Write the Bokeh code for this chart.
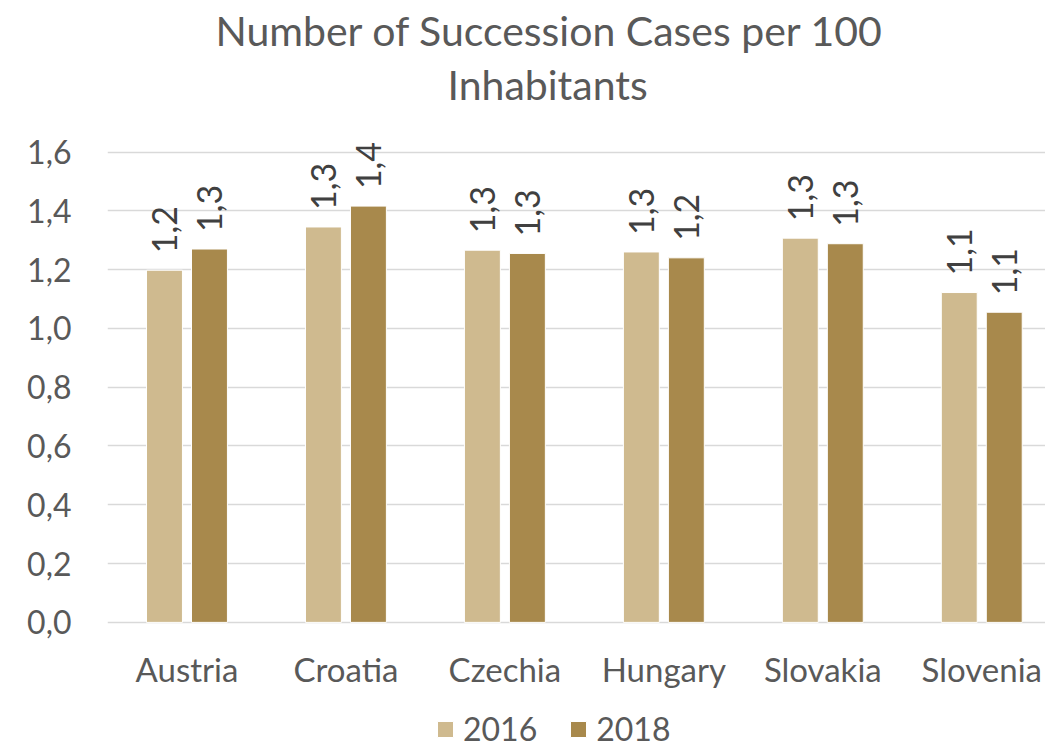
import math
from bokeh.plotting import figure
from bokeh.core.properties import value
from bokeh.models import (ColumnDataSource, Range1d, FixedTicker, CustomJSTickFormatter,
                          Legend, LegendItem, Title, LabelSet)
from bokeh.transform import dodge
from bokeh.embed import file_html
from bokeh.resources import INLINE

# ---- data ----
countries = ["Austria", "Croatia", "Czechia", "Hungary", "Slovakia", "Slovenia"]
years = ["2016", "2018"]
values_2016 = [1.198, 1.345, 1.266, 1.260, 1.307, 1.122]
values_2018 = [1.270, 1.416, 1.255, 1.240, 1.288, 1.055]
y_ticks = [0.0, 0.2, 0.4, 0.6, 0.8, 1.0, 1.2, 1.4, 1.6]
title_line1 = "Number of Succession Cases per 100"
title_line2 = "Inhabitants"

FONT = "Lato"
TXT = "#595959"
C16 = "#CFBA8F"
C18 = "#A8894C"

def fmt(v):
    return f"{v:.1f}".replace(".", ",")

src = ColumnDataSource(dict(
    x=list(range(len(countries))),
    base=[0.0] * len(countries),
    name=countries,
    v16=values_2016,
    v18=values_2018,
    l16=[fmt(v) for v in values_2016],
    l18=[fmt(v) for v in values_2018],
))

p = figure(width=1045, height=749, output_backend="svg", toolbar_location=None,
           x_range=Range1d(-0.5, 5.401), y_range=Range1d(-0.4324, 1.748),
           min_border_left=107, min_border_right=0, min_border_top=107,
           min_border_bottom=0)
p.outline_line_color = None
p.background_fill_color = "white"
p.border_fill_color = "white"

OFF = 0.1415
W = 0.226
r16 = p.vbar(x=dodge("x", -OFF, range=p.x_range), top="v16", bottom="base", width=W,
             source=src, fill_color=C16, line_color="white", line_width=1)
r18 = p.vbar(x=dodge("x", OFF, range=p.x_range), top="v18", bottom="base", width=W,
             source=src, fill_color=C18, line_color="white", line_width=1)

for col, lab, off in (("v16", "l16", -OFF), ("v18", "l18", OFF)):
    ls = LabelSet(x=dodge("x", off, range=p.x_range), y=col, text=lab, source=src,
                  angle=math.pi / 2, text_align="left", text_baseline="middle",
                  y_offset=17, text_font=value(FONT), text_font_size=value("34px"),
                  text_color="#404040")
    p.add_layout(ls)

# category labels along the zero line (acts as the category axis)
cats = LabelSet(x="x", y="base", text="name", source=src, y_offset=-27,
                text_align="center", text_baseline="top", text_font=value(FONT),
                text_font_size=value("33px"), text_color=TXT)
p.add_layout(cats)

p.xaxis.visible = False

p.yaxis.ticker = FixedTicker(ticks=y_ticks)
p.yaxis.formatter = CustomJSTickFormatter(code="return tick.toFixed(1).replace('.', ',');")
p.yaxis.major_label_text_font = FONT
p.yaxis.major_label_text_font_size = "32px"
p.yaxis.major_label_text_color = TXT
p.yaxis.major_label_standoff = 30
p.yaxis.axis_line_color = None
p.yaxis.major_tick_line_color = None
p.yaxis.minor_tick_line_color = None

p.xgrid.grid_line_color = None
p.ygrid.ticker = FixedTicker(ticks=y_ticks)
p.ygrid.grid_line_color = "#D9D9D9"
p.ygrid.grid_line_width = 1.5

# title (two lines)
t2 = Title(text=title_line2, align="left", offset=340, text_font=FONT,
           text_font_size="41px", text_color=TXT, text_font_style="normal", standoff=0)
t1 = Title(text=title_line1, align="left", offset=108, text_font=FONT,
           text_font_size="41px", text_color=TXT, text_font_style="normal", standoff=6)
p.add_layout(t2, "above")
p.add_layout(t1, "above")

legend = Legend(items=[LegendItem(label=years[0], renderers=[r16]),
                       LegendItem(label=years[1], renderers=[r18])],
                orientation="horizontal", location=(328, 1),
                label_text_font=FONT, label_text_font_size="32px",
                label_text_color=TXT, glyph_width=20, glyph_height=20,
                label_standoff=8, spacing=31, padding=0, margin=0,
                border_line_color=None, background_fill_alpha=0)
p.add_layout(legend, "center")

open("out.html", "w").write(file_html(p, INLINE))
